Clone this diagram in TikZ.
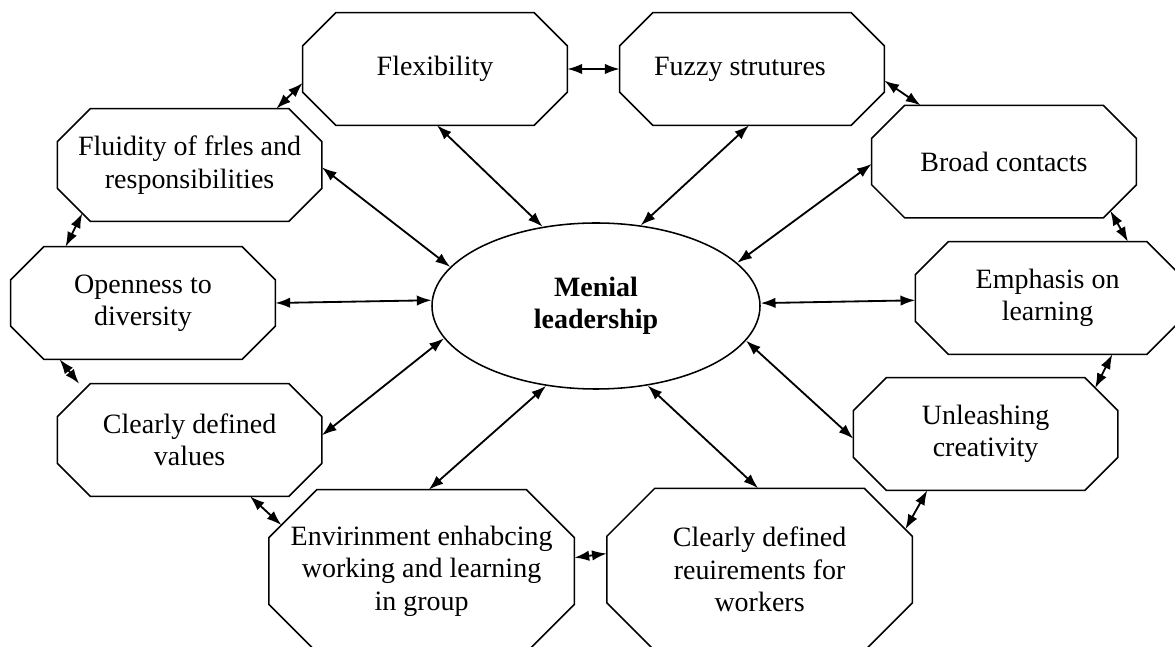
\documentclass[tikz,border=0pt]{standalone}
\usepackage{fontspec}
\setmainfont{Liberation Serif}
\usetikzlibrary{arrows.meta,shapes.geometric,calc}
\tikzset{
  octa/.style={rectangle, minimum width=6.6cm, minimum height=2.8cm, inner sep=0pt,
    align=center, font=\fontsize{19.9}{23}\selectfont},
  bigocta/.style={octa, minimum width=7.625cm, minimum height=4.05cm},
  rim/.style={line width=1.1pt, line join=miter},
  hub/.style={draw, ellipse, minimum width=8.2cm, minimum height=4.15cm, inner sep=0pt,
    line width=1.1pt, align=center, font=\fontsize{19.9}{23}\selectfont\bfseries},
  link/.style={{Latex[length=3.7mm,width=2.6mm]}-{Latex[length=3.7mm,width=2.6mm]},
    line width=1.3pt}
}

\begin{document}
\begin{tikzpicture}
      \useasboundingbox (0,0) rectangle (29.375,-16.175);
      \clip (0,0) rectangle (29.375,-16.175);
      \node[hub] at (14.9,-7.65) (lead) {Menial\\leadership};
      \node[octa] at (10.875,-1.725) (flex) {Flexibility};
      \node[octa] at (18.8,-1.725) (fuzzy) {Fuzzy strutures\hspace{0.6cm}};
      \node[octa] at (4.74,-4.125) (fluid) {Fluidity of frles and\\responsibilities};
      \node[octa] at (25.1,-4.04) (broad) {Broad contacts};
      \node[octa] at (3.575,-7.575) (open) {Openness to\\diversity};
      \node[octa] at (26.19,-7.45) (emph) {Emphasis on\\learning};
      \node[octa] at (4.74,-11.0) (values) {Clearly defined\\values};
      \node[octa] at (24.64,-10.85) (unleash) {Unleashing\\creativity};
      \node[bigocta] at (10.54,-14.275) (envir) {Envirinment enhabcing\\working and learning\\in group};
      \node[bigocta] at (18.99,-14.24) (reqs) {Clearly defined\\reuirements for\\workers};
      \foreach \n/\c in {flex/0.825,fuzzy/0.825,fluid/0.825,broad/0.825,open/0.825,
          emph/0.825,values/0.825,unleash/0.825,envir/1.2,reqs/1.2}
        \draw[rim] ($(\n.north west)+(\c,0)$) -- ($(\n.north east)+(-\c,0)$)
          -- ($(\n.north east)+(0,-\c)$) -- ($(\n.south east)+(0,\c)$)
          -- ($(\n.south east)+(-\c,0)$) -- ($(\n.south west)+(\c,0)$)
          -- ($(\n.south west)+(0,\c)$) -- ($(\n.north west)+(0,-\c)$) -- cycle;
      \draw[link] (flex.east)--(fuzzy.west);
      \draw[link] (flex.186.5)--(fluid.33.7);
      \draw[link] (fuzzy.355.7)--(broad.146.8);
      \draw[link] ($(fluid.south west)+(0.625,0.2)$)--(open.144.7);
      \draw[link] (open.214.8)--(values.153.5);
      \draw[link] (values.317.1)--($(envir.north west)+(0.315,-0.885)$);
      \draw[link] (envir.5.95)--(reqs.174.6);
      \draw[link] ($(reqs.north east)+(-0.175,-1.025)$)--(unleash.224.8);
      \draw[link] ($(unleash.north east)+(-0.57,-0.26)$)--(emph.319.3);
      \draw[link] ($(broad.south east)+(-0.65,0.18)$)--(emph.35.8);
      \draw[link] (lead.124.4)--(flex.272);
      \draw[link] (lead.61.5)--(fuzzy.267);
      \draw[link] (lead.165.3)--(fluid.359.2);
      \draw[link] (lead.17.3)--(broad.181.5);
      \draw[link] (lead.178.6)--(open.east);
      \draw[link] (lead.1.7)--(emph.181.3);
      \draw[link] (lead.192.7)--(values.2);
      \draw[link] (lead.347.4)--(unleash.182.6);
      \draw[link] (lead.238.6)--(envir.85.5);
      \draw[link] (lead.303.7)--(reqs.91.8);
\end{tikzpicture}
\end{document}
